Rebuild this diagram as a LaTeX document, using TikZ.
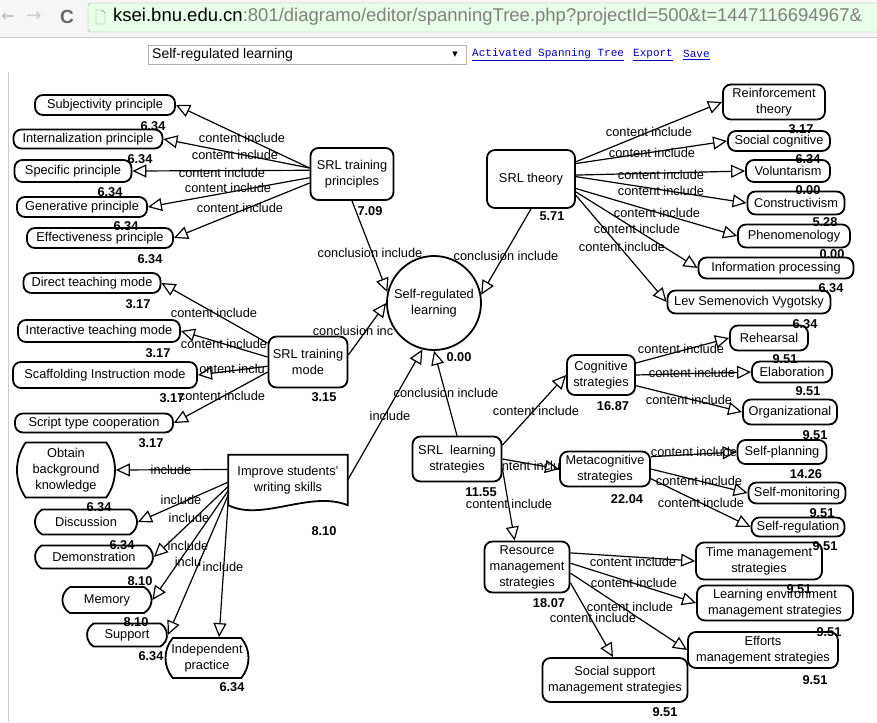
\documentclass[tikz,border=0pt]{standalone}
\usepackage{fontspec}
\setmainfont{Liberation Sans}
\newfontfamily\monofont{Liberation Mono}
\newfontfamily\symfont{DejaVu Sans}
\usetikzlibrary{arrows.meta,shapes.misc}
\begin{document}
\begin{tikzpicture}[
                            x=1pt,
                            y=-1pt,
                            every node/.style={
                                font=\fontsize{12.8}{16}\selectfont,
                            },
                            box/.style={
                                draw,
                                line width=1.8pt,
                                rounded corners=8pt,
                                fill=white,
                                align=center,
                                inner sep=0pt,
                            },
                            arcbox/.style={
                                draw,
                                line width=1.8pt,
                                rounded rectangle,
                                rounded rectangle arc length=120,
                                fill=white,
                                align=center,
                                inner sep=0pt,
                            },
                            hub/.style={
                                draw,
                                circle,
                                line width=1.8pt,
                                fill=white,
                                align=center,
                                inner sep=0pt,
                                minimum size=94pt,
                            },
                            link/.style={
                                line width=1.2pt,
                                -{Triangle[open,length=14pt,width=13pt]},
                            },
                            lbl/.style={
                                inner sep=0pt,
                            },
                            val/.style={
                                inner sep=0pt,
                                font=\fontsize{12.8}{16}\selectfont\bfseries,
                            },
                        ]
                        \useasboundingbox (0,0) rectangle (877,722);
                        \begin{scope}
                            \clip (0,0) rectangle (877,722);
                            \fill[gray!7] (0,0) rectangle (877,37);
                            \draw[gray!40] (0,37) -- (877,37);
                            \draw[
                                fill=green!9,
                                draw=green!35!gray!70,
                                rounded corners=3pt,
                            ]
                            (88,3) rectangle (900,32);
                            \draw[gray] (96,10) -- (102,10) -- (105,13) -- (105,24) -- (96,24) -- cycle;
                            \node[text=gray!60, font=\symfont\fontsize{16}{20}\selectfont] (back) at (8,17) {←};
                            \node[text=gray!40, font=\symfont\fontsize{18}{20}\selectfont] (fwd) at (34,17) {→};
                            \node[text=gray!80!black, font=\fontsize{19}{20}\selectfont\bfseries] (reload) at (67,17) {C};
                            \node[anchor=west, inner sep=0pt, font=\fontsize{18.5}{20}\selectfont] (url) at (113,17) {ksei.bnu.edu.cn\textcolor{gray}{:801/diagramo/editor/spanningTree.php?projectId=500\&t=1447116694967\&}};
                            \draw[gray!60, fill=white] (148,45) rectangle (466,64);
                            \node[anchor=west, inner sep=0pt, font=\fontsize{14}{16}\selectfont] (seltxt) at (152,54.5) {Self-regulated learning};
                            \node[font=\symfont\fontsize{7}{8}\selectfont] (selarr) at (455,54.5) {▼};
                            \node[anchor=west, inner sep=0pt, text=blue!75!black, font=\monofont\fontsize{11}{12}\selectfont] (act) at (472,55) {\underline{Activated Spanning Tree}};
                            \node[anchor=west, inner sep=0pt, text=blue!75!black, font=\monofont\fontsize{11}{12}\selectfont] (expt) at (633,55) {\underline{Export}};
                            \node[anchor=west, inner sep=0pt, text=blue!75!black, font=\monofont\fontsize{11}{12}\selectfont] (save) at (683,55) {\underline{Save}};
                            \draw[gray!40] (8,72) -- (8,722);
                        \end{scope}

                        \node[box, minimum width=140pt, minimum height=20pt] (subj) at (105,105) {Subjectivity principle};
                        \node[box, minimum width=149pt, minimum height=19pt] (intl) at (88,139) {Internalization principle};
                        \node[box, minimum width=117pt, minimum height=22pt] (spec) at (73,171) {Specific principle};
                        \node[box, minimum width=130pt, minimum height=20pt] (genr) at (82,207) {Generative principle};
                        \node[box, minimum width=146pt, minimum height=20pt] (effc) at (100,238) {Effectiveness principle};
                        \node[box, minimum width=83pt, minimum height=52pt] (trpr) at (352,174) {SRL training\\principles};

                        \node[box, minimum width=88pt, minimum height=58pt] (thry) at (531,179) {SRL theory};
                        \node[box, minimum width=102pt, minimum height=35pt] (rein) at (774,102) {Reinforcement\\theory};
                        \node[box, minimum width=102pt, minimum height=20pt] (soco) at (779,141) {Social cognitive};
                        \node[box, minimum width=84pt, minimum height=22pt] (volu) at (788,171) {Voluntarism};
                        \node[box, minimum width=97pt, minimum height=23pt] (cons) at (796,203) {Constructivism};
                        \node[box, minimum width=112pt, minimum height=23pt] (phen) at (794,236) {Phenomenology};
                        \node[box, minimum width=155pt, minimum height=21pt] (infp) at (776,268) {Information processing};
                        \node[box, minimum width=163pt, minimum height=23pt] (lev) at (749,302) {Lev Semenovich Vygotsky};

                        \node[hub] (srl) at (434,303) {Self-regulated\\learning};

                        \node[box, minimum width=137pt, minimum height=20pt] (dirt) at (92,283) {Direct teaching mode};
                        \node[box, minimum width=162pt, minimum height=22pt] (intr) at (99,331) {Interactive teaching mode};
                        \node[box, minimum width=184pt, minimum height=26pt] (scaf) at (105,375) {Scaffolding Instruction mode};
                        \node[box, minimum width=158pt, minimum height=19pt] (scrp) at (94,423) {Script type cooperation};
                        \node[box, minimum width=79pt, minimum height=51pt] (trmd) at (308,362) {SRL training\\mode};

                        \node[minimum width=119pt, minimum height=50pt, inner sep=0pt, align=center] (impr) at (288,480) {Improve students'\\writing skills};
                        \draw[
                            line width=1.8pt,
                            fill=white,
                        ]
                        (impr.south west) -- (impr.north west) -- (impr.north east) -- (impr.south east) .. controls (310,490) and (262,522) .. (impr.south west) -- cycle;
                        \node[align=center] (imprtxt) at (impr.center) {Improve students'\\writing skills};

                        \node[arcbox, rounded rectangle arc length=70, minimum width=98pt, minimum height=55pt] (obtn) at (66,470) {Obtain\\background\\knowledge};
                        \node[arcbox, minimum width=102pt, minimum height=25pt] (disc) at (86,522) {Discussion};
                        \node[arcbox, minimum width=118pt, minimum height=23pt] (demo) at (94,557) {Demonstration};
                        \node[arcbox, minimum width=89pt, minimum height=26pt] (memo) at (107,600) {Memory};
                        \node[arcbox, minimum width=80pt, minimum height=23pt] (supp) at (127,635) {Support};
                        \node[arcbox, rounded rectangle arc length=80, minimum width=83pt, minimum height=40pt] (indp) at (207,658) {Independent\\practice};

                        \node[box, minimum width=89pt, minimum height=45pt] (lstr) at (457,459) {SRL\ \ learning\\strategies};
                        \node[box, minimum width=68pt, minimum height=40pt] (cogn) at (601,375) {Cognitive\\strategies};
                        \node[box, minimum width=90pt, minimum height=35pt] (meta) at (605,469) {Metacognitive\\strategies};
                        \node[box, minimum width=85pt, minimum height=51pt] (resm) at (527,567) {Resource\\management\\strategies};

                        \node[box, minimum width=78pt, minimum height=25pt] (rehe) at (769,338) {Rehearsal};
                        \node[box, minimum width=80pt, minimum height=21pt] (elab) at (792,372) {Elaboration};
                        \node[box, minimum width=94pt, minimum height=25pt] (orgn) at (790,412) {Organizational};
                        \node[box, minimum width=89pt, minimum height=24pt] (splan) at (782,452) {Self-planning};
                        \node[box, minimum width=97pt, minimum height=21pt] (smon) at (797,493) {Self-monitoring};
                        \node[box, minimum width=93pt, minimum height=19pt] (sreg) at (798,527) {Self-regulation};

                        \node[box, minimum width=126pt, minimum height=37pt] (time) at (759,561) {Time management\\strategies};
                        \node[box, minimum width=156pt, minimum height=35pt] (lenv) at (775,603) {Learning environment\\management strategies};
                        \node[box, minimum width=150pt, minimum height=36pt] (effm) at (763,650) {Efforts\\management strategies};
                        \node[box, minimum width=145pt, minimum height=44pt] (socs) at (615,680) {Social support\\management strategies};

                        \draw[link] (trpr.172) -- (subj.east);
                        \draw[link] (trpr.172) -- (intl.east);
                        \draw[link] (trpr.175) -- (spec.east);
                        \draw[link] (trpr.185) -- (genr.east);
                        \draw[link] (trpr.192) -- (effc.east);
                        \draw[link] (trpr.south) -- (srl.167);

                        \draw[link] (thry.21) -- (rein.west);
                        \draw[link] (thry.19) -- (soco.west);
                        \draw[link] (thry.5) -- (volu.west);
                        \draw[link] (thry.3) -- (cons.west);
                        \draw[link] (thry.-12) -- (phen.west);
                        \draw[link] (thry.-16) -- (infp.west);
                        \draw[link] (thry.-20) -- (lev.west);
                        \draw[link] (thry.south) -- (srl.10);

                        \draw[link] (trmd.155) -- (dirt.east);
                        \draw[link] (trmd.173) -- (intr.east);
                        \draw[link] (trmd.186) -- (scaf.east);
                        \draw[link] (trmd.194) -- (scrp.east);
                        \draw[link] (trmd.10) -- (srl.180);

                        \draw[link] (impr.170) -- (obtn.east);
                        \draw[link] (impr.182) -- (disc.east);
                        \draw[link] (impr.186) -- (demo.east);
                        \draw[link] (impr.190) -- (memo.east);
                        \draw[link] (impr.194) -- (supp.east);
                        \draw[link] (impr.198) -- (indp.60);
                        \draw[link] (impr.east) -- (srl.-104);

                        \draw[link] (lstr.north) -- (srl.south);
                        \draw[link] (lstr.17) -- (cogn.west);
                        \draw[link] (lstr.east) -- (meta.west);
                        \draw[link] (lstr.-12) -- (resm.115);

                        \draw[link] (cogn.19) -- (rehe.west);
                        \draw[link] (cogn.east) -- (elab.west);
                        \draw[link] (cogn.-17) -- (orgn.west);
                        \draw[link] (meta.15) -- (splan.west);
                        \draw[link] (meta.0) -- (smon.west);
                        \draw[link] (meta.-12) -- (sreg.west);

                        \draw[link] (resm.18) -- (time.west);
                        \draw[link] (resm.5) -- (lenv.west);
                        \draw[link] (resm.-8) -- (effm.west);
                        \draw[link] (resm.-20) -- (socs.95);

                        \node[lbl] (ls1) at (242,138) {content include};
                        \node[lbl] (ls2) at (235,155) {content include};
                        \node[lbl] (ls3) at (222,173) {content include};
                        \node[lbl] (ls4) at (228,188) {content include};
                        \node[lbl] (ls5) at (240,208) {content include};
                        \node[lbl] (lsc) at (370,253) {conclusion include};

                        \node[lbl] (lt1) at (649,132) {content include};
                        \node[lbl] (lt2) at (652,153) {content include};
                        \node[lbl] (lt3) at (661,175) {content include};
                        \node[lbl] (lt4) at (661,191) {content include};
                        \node[lbl] (lt5) at (657,213) {content include};
                        \node[lbl] (lt6) at (637,229) {content include};
                        \node[lbl] (lt7) at (622,247) {content include};
                        \node[lbl] (ltc) at (506,256) {conclusion include};

                        \node[lbl] (lm1) at (214,313) {content include};
                        \node[lbl] (lm2) at (224,344) {content include};
                        \node[lbl] (lm3) at (232,369) {ontent inclu};
                        \node[lbl] (lm4) at (222,396) {content include};
                        \node[lbl] (lmc) at (353,331) {conclusion inc};

                        \node[lbl] (lw0) at (390,416) {include};
                        \node[lbl] (lw1) at (171,470) {include};
                        \node[lbl] (lw2) at (181,500) {include};
                        \node[lbl] (lw3) at (189,518) {include};
                        \node[lbl] (lw4) at (188,546) {include};
                        \node[lbl] (lw5) at (188,562) {inclu};
                        \node[lbl] (lw6) at (223,567) {include};

                        \node[lbl] (llc) at (446,393) {conclusion include};
                        \node[lbl] (ll1) at (536,411) {content include};
                        \node[lbl] (ll2) at (531,466) {ntent inclu};
                        \node[lbl] (ll3) at (509,504) {content include};

                        \node[lbl] (lc1) at (681,349) {content include};
                        \node[lbl] (lc2) at (692,373) {content include};
                        \node[lbl] (lc3) at (689,400) {content include};
                        \node[lbl] (lmt1) at (694,452) {content include};
                        \node[lbl] (lmt2) at (699,481) {content include};
                        \node[lbl] (lmt3) at (701,503) {content include};

                        \node[lbl] (lr1) at (633,562) {content include};
                        \node[lbl] (lr2) at (634,583) {content include};
                        \node[lbl] (lr3) at (630,607) {content include};
                        \node[lbl] (lr4) at (593,618) {content include};

                        \node[val] (vsubj) at (153,126) {6.34};
                        \node[val] (vintl) at (140,159) {6.34};
                        \node[val] (vspec) at (110,192) {6.34};
                        \node[val] (vgenr) at (126,226) {6.34};
                        \node[val] (veffc) at (150,259) {6.34};
                        \node[val] (vtrpr) at (370,211) {7.09};
                        \node[val] (vthry) at (552,216) {5.71};
                        \node[val] (vrein) at (801,129) {3.17};
                        \node[val] (vsoco) at (808,159) {6.34};
                        \node[val] (vvolu) at (808,190) {0.00};
                        \node[val] (vcons) at (825,222) {5.28};
                        \node[val] (vphen) at (832,254) {0.00};
                        \node[val] (vinfp) at (831,288) {6.34};
                        \node[val] (vlev) at (805,324) {6.34};
                        \node[val] (vsrl) at (459,357) {0.00};
                        \node[val] (vdirt) at (138,304) {3.17};
                        \node[val] (vintr) at (158,353) {3.17};
                        \node[val] (vscaf) at (172,398) {3.17};
                        \node[val] (vscrp) at (151,443) {3.17};
                        \node[val] (vtrmd) at (324,397) {3.15};
                        \node[val] (vimpr) at (324,531) {8.10};
                        \node[val] (vobtn) at (99,507) {6.34};
                        \node[val] (vdisc) at (122,545) {6.34};
                        \node[val] (vdemo) at (140,581) {8.10};
                        \node[val] (vmemo) at (136,622) {8.10};
                        \node[val] (vsupp) at (151,656) {6.34};
                        \node[val] (vindp) at (232,687) {6.34};
                        \node[val] (vlstr) at (481,492) {11.55};
                        \node[val] (vcogn) at (613,406) {16.87};
                        \node[val] (vmeta) at (627,499) {22.04};
                        \node[val] (vresm) at (549,603) {18.07};
                        \node[val] (vrehe) at (785,359) {9.51};
                        \node[val] (velab) at (808,391) {9.51};
                        \node[val] (vorgn) at (815,435) {9.51};
                        \node[val] (vsplan) at (806,474) {14.26};
                        \node[val] (vsmon) at (822,513) {9.51};
                        \node[val] (vsreg) at (825,546) {9.51};
                        \node[val] (vtime) at (799,589) {9.51};
                        \node[val] (vlenv) at (829,632) {9.51};
                        \node[val] (veffm) at (815,680) {9.51};
                        \node[val] (vsocs) at (665,712) {9.51};
                    \end{tikzpicture}
\end{document}
